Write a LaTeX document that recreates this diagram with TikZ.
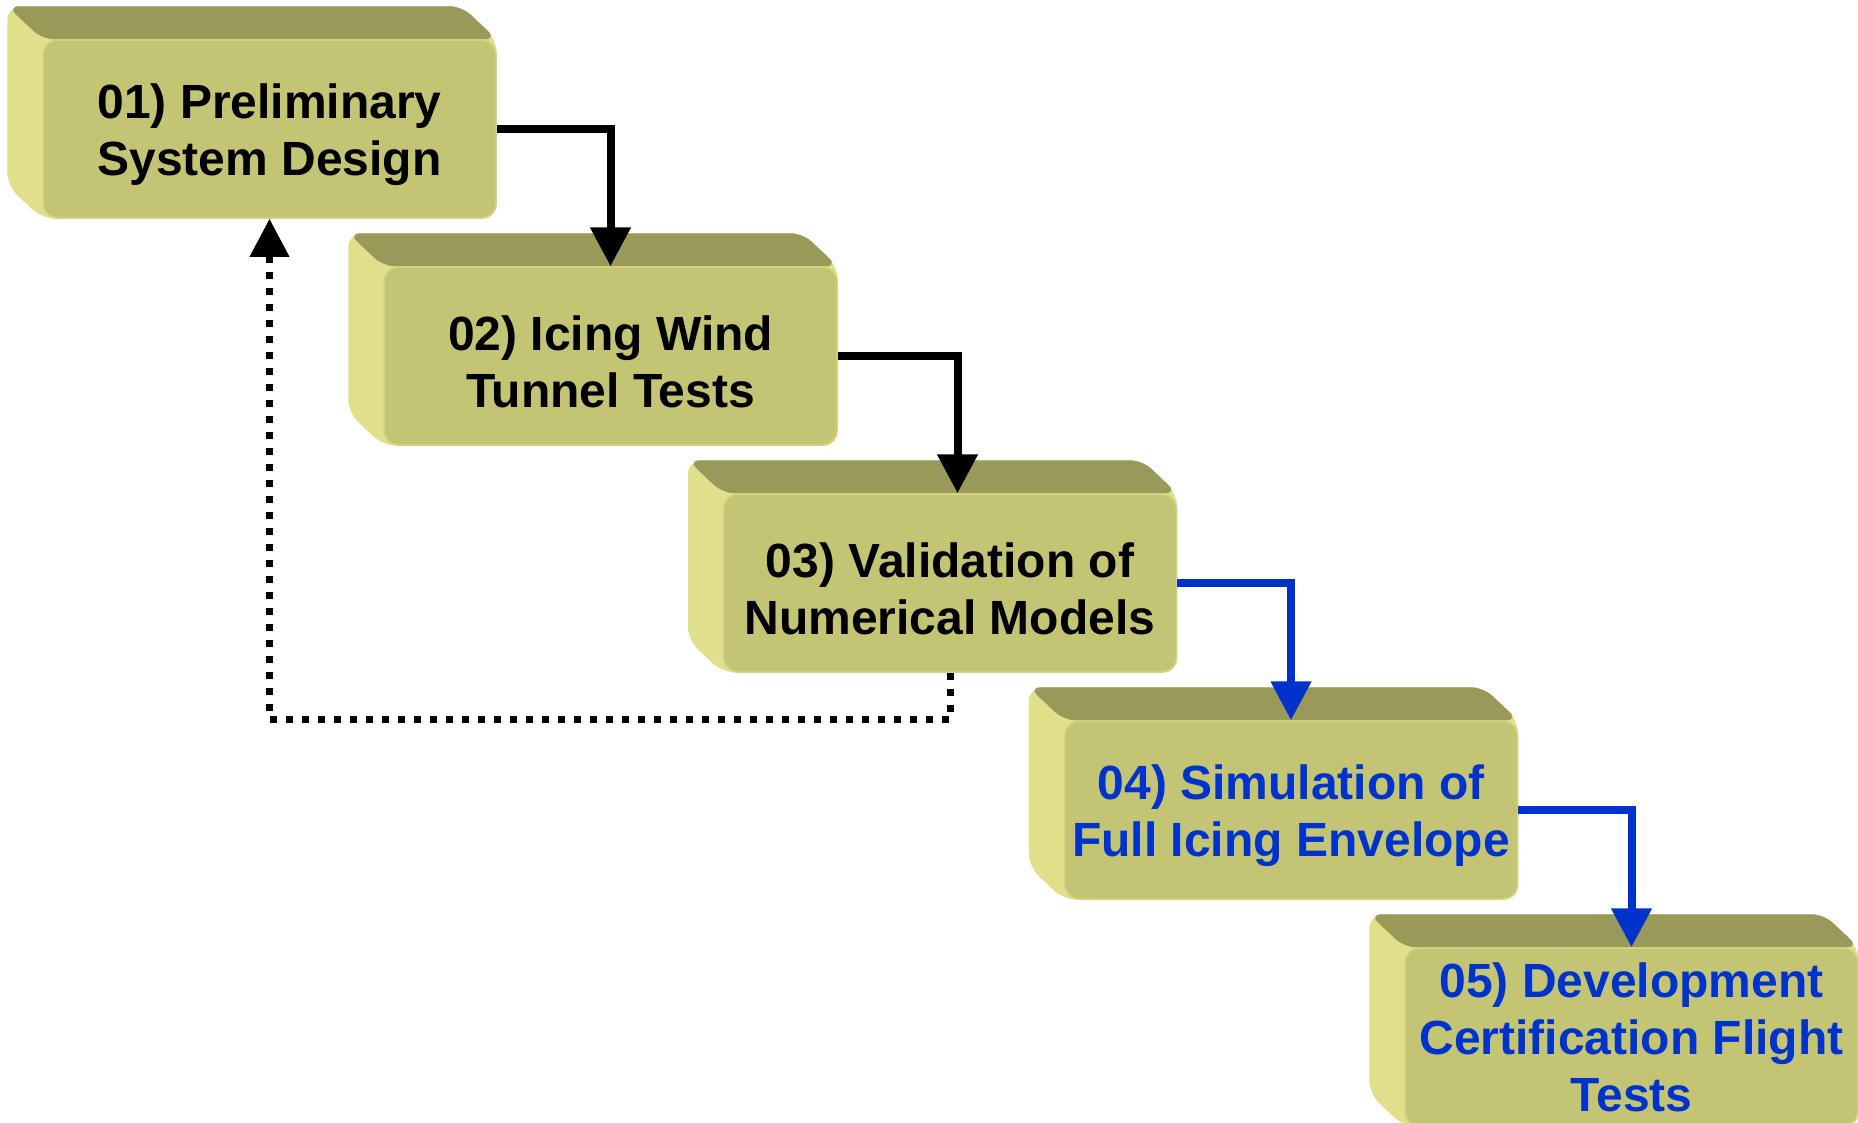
\documentclass[tikz,border=0pt]{standalone}
\usepackage{fontspec}
\setmainfont{Liberation Sans}
\usetikzlibrary{arrows.meta,calc,backgrounds}
\definecolor{frontc}{RGB}{196,196,117}
\definecolor{topc}{RGB}{153,153,90}
\definecolor{leftc}{RGB}{224,224,138}
\definecolor{edgec}{RGB}{212,212,128}
\definecolor{blu}{RGB}{0,51,204}
\newcommand{\lowtext}[1]{\raisebox{-6pt}[\height][\depth]{#1}}
\begin{document}
\begin{tikzpicture}[x=1pt,y=-1pt,
  stage/.style={rectangle, rounded corners=15pt, minimum width=453pt, minimum height=178pt,
    inner sep=0pt, fill=frontc, draw=edgec, line width=1.5pt, align=center,
    font=\fontsize{48}{57}\selectfont\bfseries},
  flow/.style={line width=8pt, -{Triangle[width=39pt,length=39pt]}},
  loopback/.style={line width=7pt, dash pattern=on 7pt off 9pt, -{Triangle[width=38pt,length=38pt]}},
  topface/.style={fill=topc, rounded corners=12pt},
  sideface/.style={fill=leftc, rounded corners=14pt}]
\useasboundingbox (0,0) rectangle (1858,1122);
\clip (0,0) rectangle (1858,1122);

\node[stage] (b1) at (269.5,129) {\lowtext{01) Preliminary}\\\lowtext{System Design}};
\node[stage] (b2) at (610.5,356) {\lowtext{02) Icing Wind}\\\lowtext{Tunnel Tests}};
\node[stage] (b3) at (950,583) {\lowtext{03) Validation of}\\\lowtext{Numerical Models}};
\node[stage,text=blu] (b4) at (1291,810) {\lowtext{04) Simulation of}\\\lowtext{Full Icing Envelope}};
\node[stage,text=blu] (b5) at (1631.5,1037) {05) Development\\Certification Flight\\Tests};

\begin{scope}[on background layer]
\foreach \b in {b1,b2,b3,b4,b5} {
  \fill[sideface] ($(\b.north west)+(-35,-33)$) -- ($(\b.north east)+(-35,-33)$)
     -- (\b.north east) -- (\b.south east) -- (\b.south west)
     -- ($(\b.south west)+(-35,-33)$) -- cycle;
  \fill[topface] ($(\b.north west)+(-35,-33)$) -- ($(\b.north east)+(-35,-33)$)
     -- (\b.north east) -- (\b.north west) -- cycle;
}
\end{scope}

\draw[flow] (b1.east) -| (b2.north);
\draw[flow] (b2.east) -| ([xshift=7.5pt]b3.north);
\draw[flow,blu] (b3.east) -| (b4.north);
\draw[flow,blu] (b4.east) -| (b5.north);
\draw[loopback] (b3.south) -- ++(0,47) -| (b1.south);
\end{tikzpicture}
\end{document}
